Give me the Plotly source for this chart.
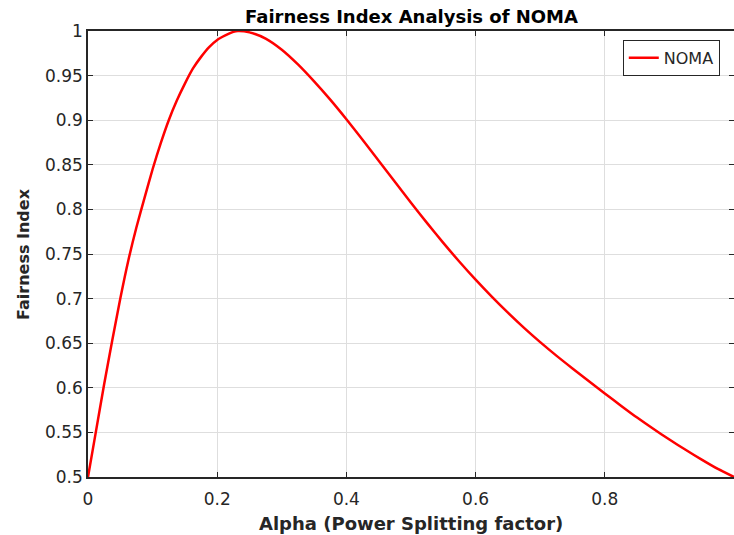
import plotly.graph_objects as go

# Data
alpha = [0.0, 0.0125, 0.025, 0.0375, 0.05, 0.0625, 0.075, 0.0875, 0.1, 0.1125,
         0.125, 0.1375, 0.15, 0.1625, 0.175, 0.1875, 0.2, 0.2125, 0.225, 0.232,
         0.25, 0.275, 0.3, 0.325, 0.35, 0.375, 0.4, 0.425, 0.45, 0.475,
         0.5, 0.525, 0.55, 0.575, 0.6, 0.625, 0.65, 0.675, 0.7, 0.725,
         0.75, 0.775, 0.8, 0.825, 0.85, 0.875, 0.9, 0.925, 0.95, 0.975, 1.0]
fairness = [0.5, 0.552, 0.604, 0.653, 0.700, 0.743, 0.780, 0.813, 0.845, 0.874,
            0.900, 0.922, 0.941, 0.958, 0.971, 0.982, 0.990, 0.995, 0.999, 1.0,
            0.9985, 0.9915, 0.979, 0.9625, 0.9435, 0.923, 0.901, 0.878, 0.8545, 0.831,
            0.8075, 0.7846, 0.7625, 0.7413, 0.7212, 0.7022, 0.6842, 0.6672, 0.6512, 0.6361,
            0.6217, 0.6076, 0.5937, 0.58, 0.5666, 0.554, 0.542, 0.5305, 0.5195, 0.509, 0.5]
series_name = "NOMA"
x_ticks = [0, 0.2, 0.4, 0.6, 0.8, 1]
x_tick_labels = ["0", "0.2", "0.4", "0.6", "0.8", "1"]
y_ticks = [0.5, 0.55, 0.6, 0.65, 0.7, 0.75, 0.8, 0.85, 0.9, 0.95, 1.0]
y_tick_labels = ["0.5", "0.55", "0.6", "0.65", "0.7", "0.75", "0.8", "0.85", "0.9", "0.95", "1"]

AX = "#262626"
GRID = "#dedede"
FONT = "DejaVu Sans"

fig = go.Figure()
fig.add_trace(go.Scatter(
    x=alpha, y=fairness, mode="lines", name=series_name,
    line=dict(color="#ff0000", width=2.5, shape="spline", smoothing=0.6),
))

fig.update_layout(
    width=734, height=535,
    margin=dict(l=88, r=0, t=31, b=58),
    paper_bgcolor="white", plot_bgcolor="white",
    font=dict(family=FONT, size=17, color=AX),
    showlegend=True,
    legend=dict(
        x=0.978, y=0.94, xanchor="right", yanchor="middle",
        bgcolor="white", bordercolor=AX, borderwidth=1,
        font=dict(family=FONT, size=16, color=AX),
        tracegroupgap=0,
    ),
    annotations=[
        dict(text="<b>Fairness Index Analysis of NOMA</b>", xref="paper", yref="paper",
             x=0.5, y=1, yshift=15, xanchor="center", yanchor="middle", showarrow=False,
             font=dict(family=FONT, size=18, color="black")),
        dict(text="<b>Alpha (Power Splitting factor)</b>", xref="paper", yref="paper",
             x=0.5, y=0, yshift=-46, xanchor="center", yanchor="middle", showarrow=False,
             font=dict(family=FONT, size=18, color=AX)),
        dict(text="<b>Fairness Index</b>", xref="paper", yref="paper",
             x=0, y=0.5, xshift=-65, xanchor="center", yanchor="middle", showarrow=False,
             textangle=-90,
             font=dict(family=FONT, size=16, color=AX)),
    ],
)

fig.update_xaxes(
    range=[0, 1], tickmode="array", tickvals=x_ticks, ticktext=x_tick_labels,
    showgrid=True, gridcolor=GRID, gridwidth=1, zeroline=False, automargin=False,
    showline=True, linecolor=AX, linewidth=1.5, mirror="ticks",
    ticks="inside", ticklen=5, tickcolor=AX, tickwidth=1, ticklabelstandoff=6,
    tickfont=dict(family=FONT, size=17, color=AX),
)
fig.update_yaxes(
    range=[0.5, 1.0], tickmode="array", tickvals=y_ticks, ticktext=y_tick_labels,
    showgrid=True, gridcolor=GRID, gridwidth=1, zeroline=False, automargin=False,
    showline=True, linecolor=AX, linewidth=1.5, mirror="ticks",
    ticks="inside", ticklen=5, tickcolor=AX, tickwidth=1,
    tickfont=dict(family=FONT, size=17, color=AX),
)

fig.write_html(
    "out.html",
    config={"displayModeBar": False},
    post_script="document.body.style.margin='0';document.body.style.overflow='hidden';",
)
